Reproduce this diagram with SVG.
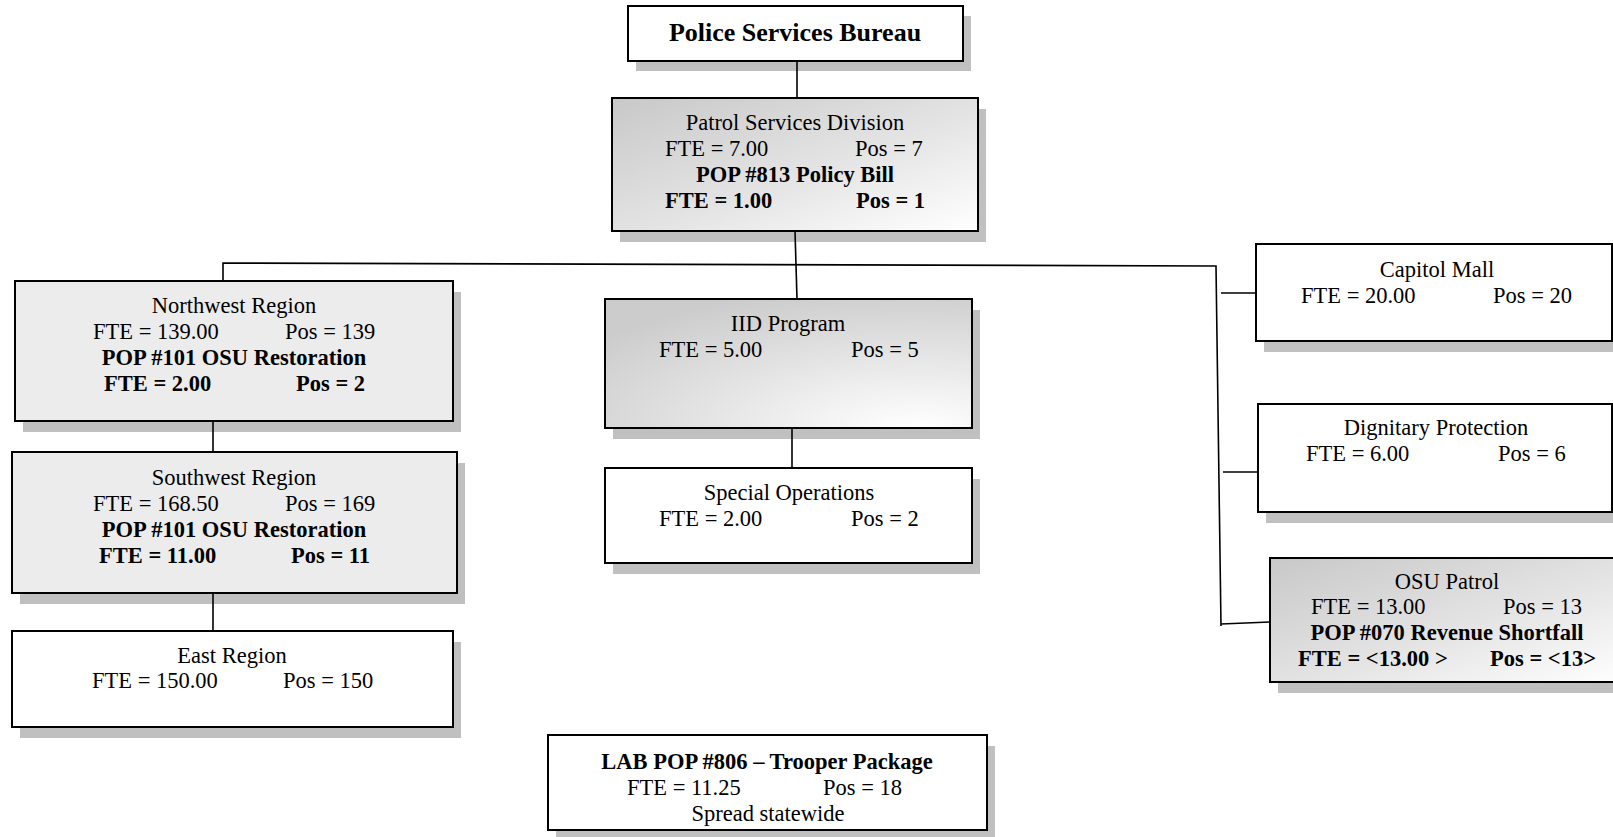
<svg xmlns="http://www.w3.org/2000/svg" width="1613" height="837" viewBox="0 0 1613 837">
<defs>
<linearGradient id="gd" x1="0" y1="0" x2="1" y2="1">
<stop offset="0" stop-color="#c8c8c8"/>
<stop offset="0.55" stop-color="#e4e4e4"/>
<stop offset="1" stop-color="#ffffff"/>
</linearGradient>
<radialGradient id="gi" cx="0.85" cy="1" r="1.1">
<stop offset="0" stop-color="#ffffff"/>
<stop offset="0.45" stop-color="#e8e8e8"/>
<stop offset="1" stop-color="#cccccc"/>
</radialGradient>
<style>
.box{stroke:#000;stroke-width:2;}
.w{fill:#fff;}
.lt{fill:#ececec;}
.sh{fill:#c0c0c0;}
.t{font-family:"Liberation Serif","Times New Roman",serif;font-size:22.5px;fill:#000;}
.b{font-weight:bold;}
.c{text-anchor:middle;}
.ln{stroke:#000;stroke-width:1.6;fill:none;}
</style>
</defs>
<rect width="1613" height="837" fill="#fff"/>

<g id="shadows">
<rect class="sh" x="636" y="16" width="335" height="55"/>
<rect class="sh" x="620" y="109" width="366" height="133"/>
<rect class="sh" x="23" y="292" width="438" height="140"/>
<rect class="sh" x="20" y="463" width="445" height="141"/>
<rect class="sh" x="20" y="642" width="441" height="96"/>
<rect class="sh" x="613" y="310" width="367" height="129"/>
<rect class="sh" x="613" y="479" width="367" height="95"/>
<rect class="sh" x="1264" y="255" width="360" height="97"/>
<rect class="sh" x="1266" y="415" width="360" height="108"/>
<rect class="sh" x="1278" y="569" width="360" height="124"/>
<rect class="sh" x="556" y="746" width="439" height="95"/>
</g>

<g id="connectors">
<line class="ln" x1="797" y1="61" x2="797" y2="98"/>
<line class="ln" x1="795" y1="231" x2="797" y2="299"/>
<polyline class="ln" points="223,281 223,263 1216,266 1221,626"/>
<line class="ln" x1="213" y1="411" x2="213" y2="452"/>
<line class="ln" x1="213" y1="591" x2="213" y2="631"/>
<line class="ln" x1="792" y1="426" x2="792" y2="468"/>
<line class="ln" x1="1221" y1="293" x2="1256" y2="293"/>
<line class="ln" x1="1223" y1="472" x2="1258" y2="472"/>
<line class="ln" x1="1221" y1="624" x2="1270" y2="622"/>
</g>

<g id="police-services-bureau">
<rect class="box w" x="628" y="6" width="335" height="55"/>
<text class="t b c" x="795" y="41" style="font-size:26px">Police Services Bureau</text>
</g>

<g id="patrol-services-division">
<rect class="box" fill="url(#gd)" x="612" y="98" width="366" height="133"/>
<text class="t c" x="795" y="130">Patrol Services Division</text>
<text class="t" x="665" y="156">FTE = 7.00</text>
<text class="t" x="855" y="156">Pos = 7</text>
<text class="t b c" x="795" y="182">POP #813 Policy Bill</text>
<text class="t b" x="665" y="208">FTE = 1.00</text>
<text class="t b" x="856" y="208">Pos = 1</text>
</g>

<g id="northwest-region">
<rect class="box lt" x="15" y="281" width="438" height="140"/>
<text class="t c" x="234" y="313">Northwest Region</text>
<text class="t" x="93" y="339">FTE = 139.00</text>
<text class="t" x="285" y="339">Pos = 139</text>
<text class="t b c" x="234" y="365">POP #101 OSU Restoration</text>
<text class="t b" x="104" y="391">FTE = 2.00</text>
<text class="t b" x="296" y="391">Pos = 2</text>
</g>

<g id="southwest-region">
<rect class="box lt" x="12" y="452" width="445" height="141"/>
<text class="t c" x="234" y="485">Southwest Region</text>
<text class="t" x="93" y="511">FTE = 168.50</text>
<text class="t" x="285" y="511">Pos = 169</text>
<text class="t b c" x="234" y="537">POP #101 OSU Restoration</text>
<text class="t b" x="99" y="563">FTE = 11.00</text>
<text class="t b" x="291" y="563">Pos = 11</text>
</g>

<g id="east-region">
<rect class="box w" x="12" y="631" width="441" height="96"/>
<text class="t c" x="232" y="663">East Region</text>
<text class="t" x="92" y="688">FTE = 150.00</text>
<text class="t" x="283" y="688">Pos = 150</text>
</g>

<g id="iid-program">
<rect class="box" fill="url(#gi)" x="605" y="299" width="367" height="129"/>
<text class="t c" x="788" y="331">IID Program</text>
<text class="t" x="659" y="357">FTE = 5.00</text>
<text class="t" x="851" y="357">Pos = 5</text>
</g>

<g id="special-operations">
<rect class="box w" x="605" y="468" width="367" height="95"/>
<text class="t c" x="789" y="500">Special Operations</text>
<text class="t" x="659" y="526">FTE = 2.00</text>
<text class="t" x="851" y="526">Pos = 2</text>
</g>

<g id="capitol-mall">
<rect class="box w" x="1256" y="244" width="356" height="97"/>
<text class="t c" x="1437" y="277">Capitol Mall</text>
<text class="t" x="1301" y="303">FTE = 20.00</text>
<text class="t" x="1493" y="303">Pos = 20</text>
</g>

<g id="dignitary-protection">
<rect class="box w" x="1258" y="404" width="354" height="108"/>
<text class="t c" x="1436" y="435">Dignitary Protection</text>
<text class="t" x="1306" y="461">FTE = 6.00</text>
<text class="t" x="1498" y="461">Pos = 6</text>
</g>

<g id="osu-patrol">
<rect class="box" fill="url(#gd)" x="1270" y="558" width="360" height="124"/>
<text class="t c" x="1447" y="589">OSU Patrol</text>
<text class="t" x="1311" y="614">FTE = 13.00</text>
<text class="t" x="1503" y="614">Pos = 13</text>
<text class="t b c" x="1447" y="640">POP #070 Revenue Shortfall</text>
<text class="t b" x="1298" y="666">FTE = &lt;13.00 &gt;</text>
<text class="t b" x="1490" y="666">Pos = &lt;13&gt;</text>
</g>

<g id="lab-pop-806">
<rect class="box w" x="548" y="735" width="439" height="95"/>
<text class="t b c" x="767" y="769">LAB POP #806 – Trooper Package</text>
<text class="t" x="627" y="795">FTE = 11.25</text>
<text class="t" x="823" y="795">Pos = 18</text>
<text class="t c" x="768" y="821">Spread statewide</text>
</g>
</svg>
